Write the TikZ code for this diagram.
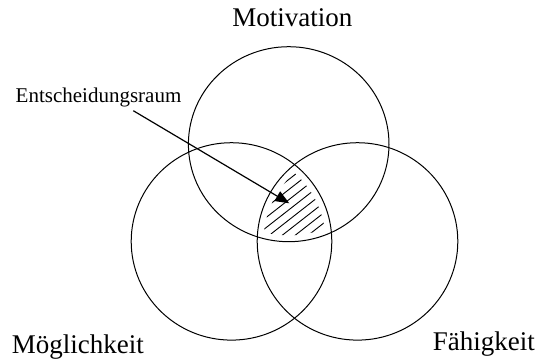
\documentclass[tikz,border=0pt]{standalone}
\usepackage{fontspec}
\setmainfont{Liberation Serif}
\usetikzlibrary{arrows.meta,calc,positioning}

\begin{document}
\begin{tikzpicture}[x=1pt,y=-1pt,
ring/.style={line width=1pt},
hatchline/.style={line width=0.9pt},
biglabel/.style={inner sep=0pt,font=\fontsize{27}{30}\selectfont},
smalllabel/.style={inner sep=0pt,font=\fontsize{21}{24}\selectfont}]
\useasboundingbox (0,0) rectangle (538,360);
% centres of the three sets
\coordinate (Ctop) at (288.7,144.2);
\coordinate (Cleft) at (231.5,241.4);
\coordinate (Cright) at (357.5,241.4);
\coordinate (hc) at (295,205);
\draw[ring] (Ctop) ellipse [x radius=100.3, y radius=97.5];
\draw[ring] (Cleft) ellipse [x radius=100.3, y radius=98.7];
\draw[ring] (Cright) ellipse [x radius=100.3, y radius=98.7];
% hatched common part
\begin{scope}
\clip (Ctop) ellipse [x radius=94, y radius=91.2];
\clip (Cleft) ellipse [x radius=94, y radius=92.4];
\clip (Cright) ellipse [x radius=94, y radius=92.4];
\foreach \k in {-6,...,6}
  \draw[hatchline] ($(hc)+({4.9*\k},{6.3*\k})+(-47.3,37)$) -- ($(hc)+({4.9*\k},{6.3*\k})+(47.3,-37)$);
\end{scope}
\node[biglabel,anchor=base] (motiv) at (292.4,26.7) {Motivation};
\node[biglabel,anchor=base west] (moeg) at (11.7,353) {Möglichkeit};
\node[biglabel,anchor=base east] (faeh) at (535,350) {Fähigkeit};
\node[smalllabel,anchor=base west] (raum) at (15.5,102) {Entscheidungsraum};
\coordinate (arrowstart) at (133.3,110.7);
\coordinate (raumpt) at (289.3,203.3);
\draw[line width=1.2pt,-{Triangle[length=14pt,width=11pt]}] (arrowstart) -- (raumpt);
\end{tikzpicture}
\end{document}
